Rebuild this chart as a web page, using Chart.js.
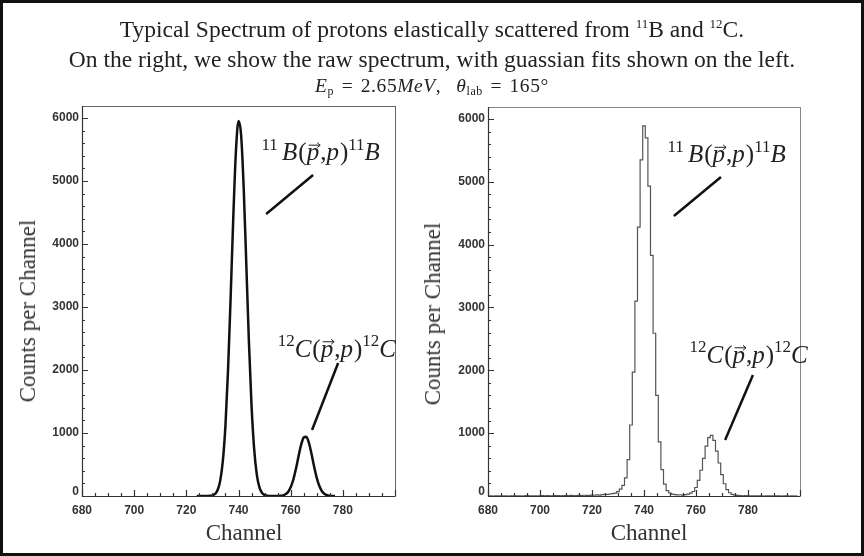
<!DOCTYPE html>
<html>
<head>
<meta charset="utf-8">
<script src="https://cdn.jsdelivr.net/npm/chart.js@4.4.0/dist/chart.umd.min.js"></script>
<style>
html, body { margin: 0; padding: 0; background: #fff; }
#page { position: relative; width: 864px; height: 556px; overflow: hidden; font-family: "Liberation Serif", serif; color: #222; }
#border { position: absolute; left: 0; top: 0; width: 858px; height: 550px; border: 3px solid #111; }
canvas { position: absolute; top: 0; }
.line { position: absolute; left: 0; width: 864px; text-align: center; white-space: nowrap; transform: translateY(-50%); }
.line sup { font-size: 13px; vertical-align: 9px; line-height: 0; }
.line sub { font-size: 12px; vertical-align: -3px; line-height: 0; font-style: normal; }
.ytitle { position: absolute; font-size: 23px; white-space: nowrap; transform: translate(-50%, -50%) rotate(-90deg); color: #333; }
.xtitle { position: absolute; font-size: 23px; white-space: nowrap; transform: translate(-50%, -50%); color: #333; }
</style>
</head>
<body>
<div id="page">
  <div id="border"></div>
  <canvas id="leftChart" width="432" height="556" style="left:0"></canvas>
  <canvas id="rightChart" width="432" height="556" style="left:432px"></canvas>

  <div class="line" style="top:29px;font-size:23.5px">Typical Spectrum of protons elastically scattered from <sup>11</sup>B and <sup>12</sup>C.</div>
  <div class="line" style="top:59px;font-size:23.5px">On the right, we show the raw spectrum, with guassian fits shown on the left.</div>
  <div class="line" style="top:86px;font-size:19.5px;letter-spacing:0.6px;word-spacing:2px"><i>E</i><sub>p</sub> = 2.65<i>MeV</i>, &nbsp;<i>θ</i><sub>lab</sub> = 165°</div>

  <div class="ytitle" style="left:28px;top:311px">Counts per Channel</div>
  <div class="ytitle" style="left:433px;top:314px">Counts per Channel</div>
  <div class="xtitle" style="left:244px;top:533px">Channel</div>
  <div class="xtitle" style="left:649px;top:533px">Channel</div>
</div>

<script>
// raw spectrum, one bin per channel
const channels = [
  680, 681, 682, 683, 684, 685, 686, 687, 688, 689, 690, 691, 692, 693, 694, 695, 696, 697, 698, 699,
  700, 701, 702, 703, 704, 705, 706, 707, 708, 709, 710, 711, 712, 713, 714, 715, 716, 717, 718, 719,
  720, 721, 722, 723, 724, 725, 726, 727, 728, 729, 730, 731, 732, 733, 734, 735, 736, 737, 738, 739,
  740, 741, 742, 743, 744, 745, 746, 747, 748, 749, 750, 751, 752, 753, 754, 755, 756, 757, 758, 759,
  760, 761, 762, 763, 764, 765, 766, 767, 768, 769, 770, 771, 772, 773, 774, 775, 776, 777, 778, 779,
  780, 781, 782, 783, 784, 785, 786, 787, 788, 789, 790, 791, 792, 793, 794, 795, 796, 797, 798, 799
];
const rawCounts = [
  0, 2, 0, 1, 3, 0, 2, 1, 0, 4, 2, 1, 3, 0, 2, 5, 1, 3, 2, 4,
  3, 6, 2, 5, 4, 3, 7, 5, 4, 8, 6, 5, 9, 7, 6, 10, 8, 12, 9, 11,
  14, 12, 18, 15, 22, 27, 25, 32, 38, 45, 70, 110, 170, 290, 580, 1130, 1970, 3100, 4280, 5350,
  5890, 5700, 4930, 3830, 2590, 1600, 860, 420, 190, 85, 48, 30, 22, 18, 20, 15, 22, 30, 45, 72,
  135, 250, 410, 600, 795, 930, 965, 885, 715, 525, 340, 195, 100, 52, 25, 14, 9, 6, 4, 5,
  3, 2, 4, 1, 3, 2, 0, 1, 2, 1, 0, 3, 1, 0, 2, 1, 0, 1, 0, 1
];

// gaussian fit curve (left panel)
const fitChannels = [
  724, 725, 726, 727, 728, 729, 730, 731, 732, 733, 734, 735, 736, 737, 738, 739, 740, 741, 742, 743,
  744, 745, 746, 747, 748, 749, 750, 751, 752, 753, 754, 755, 756, 757, 758, 759, 760, 761, 762, 763,
  764, 765, 766, 767, 768, 769, 770, 771, 772, 773, 774, 775, 776, 777
];
const fitCounts = [
  0, 0, 0, 0, 1, 3, 10, 32, 94, 244, 556, 1120, 2010, 3170, 4420, 5460, 5950, 5730, 4880, 3670,
  2440, 1434, 747, 344, 140, 50, 16, 5, 1, 0, 0, 1, 3, 10, 27, 65, 138, 258, 428, 627,
  811, 929, 941, 842, 666, 466, 288, 158, 76, 33, 12, 4, 1, 0
];

const xTickLabels = [680, 700, 720, 740, 760, 780];
const yTickLabels = [0, 1000, 2000, 3000, 4000, 5000, 6000];

const reactionB = [
  { t: '11', sup: true }, { t: ' ', sup: true }, { t: 'B', it: true }, { t: '(' }, { t: 'p', it: true, vec: true },
  { t: ',' }, { t: 'p', it: true }, { t: ')' }, { t: '11', sup: true }, { t: 'B', it: true }
];
const reactionC = [
  { t: '12', sup: true }, { t: 'C', it: true }, { t: '(' }, { t: 'p', it: true, vec: true },
  { t: ',' }, { t: 'p', it: true }, { t: ')' }, { t: '12', sup: true }, { t: 'C', it: true }
];

const tickFont = 'bold 12px "Liberation Sans", sans-serif';

function fontFor(part, size) {
  const s = part.sup ? Math.round(size * 0.66) : size;
  return (part.it ? 'italic ' : '') + s + 'px "Liberation Serif", serif';
}

function drawReaction(ctx, x, y, parts, size) {
  let cx = x;
  parts.forEach(p => {
    ctx.font = fontFor(p, size);
    const w = ctx.measureText(p.t).width;
    const by = p.sup ? y - size * 0.42 : y;
    ctx.fillText(p.t, cx, by);
    if (p.vec) {
      const ay = y - size * 0.6;
      ctx.beginPath();
      ctx.moveTo(cx + 2, ay);
      ctx.lineTo(cx + w + 1, ay);
      ctx.moveTo(cx + w - 2, ay - 2.5);
      ctx.lineTo(cx + w + 1, ay);
      ctx.lineTo(cx + w - 2, ay + 2.5);
      ctx.lineWidth = 1;
      ctx.stroke();
    }
    cx += w + (p.it ? 1 : 0);
  });
}

// ROOT style frame, inward ticks, y labels and reaction labels
const rootFrame = {
  id: 'rootFrame',
  afterDraw(chart, args, opts) {
    const { ctx, chartArea: a, scales: { x, y } } = chart;
    ctx.save();
    ctx.strokeStyle = opts.frameColor;
    ctx.lineWidth = 1;
    ctx.strokeRect(Math.round(a.left) + 0.5, Math.round(a.top) + 0.5, a.right - a.left, a.bottom - a.top);

    ctx.strokeStyle = opts.axisColor;
    ctx.lineWidth = 1.2;
    ctx.beginPath();
    ctx.moveTo(a.left + 0.5, a.top);
    ctx.lineTo(a.left + 0.5, a.bottom + 0.5);
    ctx.lineTo(a.right, a.bottom + 0.5);
    ctx.stroke();

    ctx.beginPath();
    for (let v = x.min; v <= x.max; v += 5) {
      const px = Math.round(x.getPixelForValue(v)) + 0.5;
      const len = v % 20 === 0 ? 6 : 3;
      ctx.moveTo(px, a.bottom);
      ctx.lineTo(px, a.bottom - len);
    }
    for (let v = 0; v <= y.max; v += 200) {
      const py = Math.round(y.getPixelForValue(v)) + 0.5;
      const len = v % 1000 === 0 ? 6 : 3;
      ctx.moveTo(a.left, py);
      ctx.lineTo(a.left + len, py);
    }
    ctx.stroke();

    // y tick labels
    ctx.fillStyle = '#333';
    ctx.font = tickFont;
    ctx.textAlign = 'right';
    ctx.textBaseline = 'middle';
    yTickLabels.forEach(v => {
      const py = y.getPixelForValue(v) - (v === 0 ? 4 : 0);
      ctx.fillText(String(v), a.left - 3, py);
    });

    ctx.fillStyle = '#222';
    ctx.strokeStyle = '#222';
    ctx.textBaseline = 'alphabetic';
    ctx.textAlign = 'left';
    opts.notes.forEach(n => {
      ctx.save();
      ctx.lineWidth = 2.5;
      ctx.strokeStyle = '#111';
      ctx.beginPath();
      ctx.moveTo(x.getPixelForValue(n.from[0]), y.getPixelForValue(n.from[1]));
      ctx.lineTo(x.getPixelForValue(n.to[0]), y.getPixelForValue(n.to[1]));
      ctx.stroke();
      ctx.restore();
      drawReaction(ctx, x.getPixelForValue(n.at[0]), y.getPixelForValue(n.at[1]), n.parts, 25);
    });
    ctx.restore();
  }
};

function makeChart(id, dataset, pad, notes, frameColor) {
  return new Chart(document.getElementById(id), {
    type: 'line',
    data: { datasets: [dataset] },
    options: {
      responsive: false,
      animation: false,
      devicePixelRatio: 1,
      layout: { padding: pad },
      plugins: {
        legend: { display: false },
        tooltip: { enabled: false },
        rootFrame: { notes: notes, frameColor: frameColor, axisColor: '#333' }
      },
      scales: {
        x: {
          type: 'linear',
          min: 680,
          max: 800,
          grid: { display: false, drawTicks: false },
          border: { display: false },
          afterFit: s => { s.height = 30; },
          ticks: {
            stepSize: 20,
            padding: 7,
            autoSkip: false,
            maxRotation: 0,
            color: '#333',
            font: { family: '"Liberation Sans", sans-serif', size: 12, weight: 'bold' },
            callback: v => xTickLabels.includes(v) ? String(v) : ''
          }
        },
        y: {
          min: 0,
          max: 6190,
          grid: { display: false, drawTicks: false },
          border: { display: false },
          afterFit: s => { s.width = 50; },
          ticks: { display: false, stepSize: 1000 }
        }
      }
    },
    plugins: [rootFrame]
  });
}

makeChart('leftChart', {
  data: fitChannels.map((c, i) => ({ x: c, y: fitCounts[i] })),
  borderColor: '#111',
  borderWidth: 2.5,
  pointRadius: 0,
  cubicInterpolationMode: 'monotone'
}, { left: 32, top: 106, right: 37, bottom: 30 }, [
  { parts: reactionB, at: [748.8, 5330], from: [768.6, 5095], to: [750.6, 4475] },
  { parts: reactionC, at: [755, 2210], from: [778.2, 2111], to: [768.2, 1047] }
], '#666');

makeChart('rightChart', {
  data: channels.map((c, i) => ({ x: c, y: rawCounts[i] })),
  borderColor: '#555',
  borderWidth: 1.2,
  pointRadius: 0,
  stepped: 'middle'
}, { left: 6, top: 107, right: 64, bottom: 30 }, [
  { parts: reactionB, at: [749, 5310], from: [769.6, 5076], to: [751.5, 4455] },
  { parts: reactionC, at: [757.5, 2120], from: [781.9, 1925], to: [771.2, 891] }
], '#888');
</script>
</body>
</html>
